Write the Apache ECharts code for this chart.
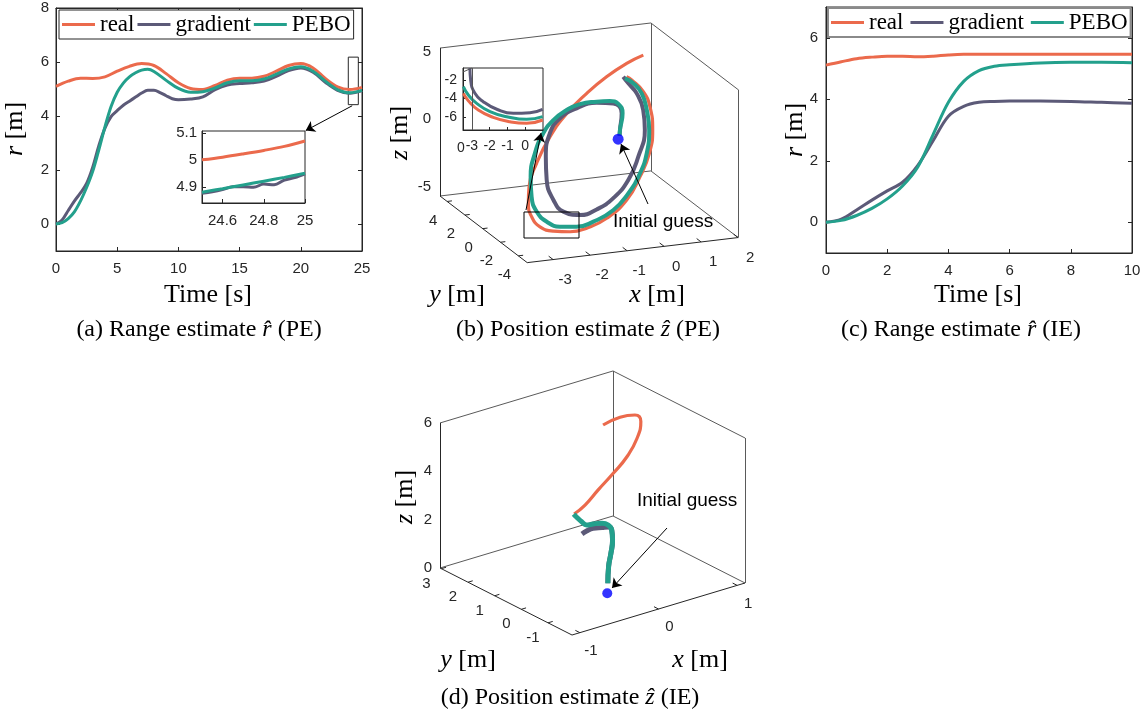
<!DOCTYPE html>
<html>
<head>
<meta charset="utf-8">
<title>Range and position estimates</title>
<script src="https://cdn.jsdelivr.net/npm/echarts@6.0.0/dist/echarts.min.js"></script>
<style>
  html, body { margin: 0; padding: 0; background: #fff; }
  #echarts { width: 1147px; height: 717px; }
</style>
</head>
<body>
<div id="echarts"></div>
<script>
const C_REAL = '#EB6A4C', C_GRAD = '#5C5A78', C_PEBO = '#23A08C', C_DOT = '#0000FF'
const INK = '#262626', SERIF = 'Liberation Serif', SANS = 'Liberation Sans'
const names = ['real', 'gradient', 'PEBO']

// (a) range estimate r, PE
const tRealA = [0,1,2,3,4,5,6,7,8,9,10,11,12,13,14,15,16,17,18,19,20,21,22,23,24,25]
const realA = [5.10,5.29,5.40,5.39,5.45,5.66,5.84,5.94,5.87,5.57,5.23,5.02,4.98,5.13,5.33,5.40,5.40,5.47,5.66,5.87,5.94,5.78,5.39,5.08,4.98,5.06]
const tPeboA = [0,0.5,1,1.5,2,2.5,3,3.5,4,4.5,5,5.5,6,6.5,7,7.5,8,9,10,11,12,13,14,15,16,17,18,19,20,21,22,23,24,25]
const peboA = [0,0.05,0.2,0.45,0.85,1.35,1.95,2.75,3.6,4.35,4.88,5.22,5.45,5.6,5.7,5.73,5.65,5.32,5.02,4.88,4.9,5.04,5.23,5.31,5.31,5.37,5.55,5.74,5.82,5.66,5.29,4.98,4.86,4.95]
const tGradA = [0,0.5,1,1.5,2,2.5,3,3.5,4,4.5,5,5.5,6,6.5,7,7.5,8,8.5,9,9.5,10,11,12,13,14,15,16,17,18,19,20,21,22,23,24,25]
const gradA = [0,0.15,0.5,0.85,1.15,1.5,2.1,2.9,3.55,3.98,4.2,4.4,4.55,4.7,4.85,4.95,4.95,4.87,4.75,4.64,4.6,4.63,4.71,4.98,5.15,5.2,5.23,5.29,5.47,5.68,5.78,5.62,5.25,4.95,4.84,4.94]

// (a) zoomed inset
const tInset = [24.5,24.6,24.7,24.8,24.9,25]
const realInset = [5.0,5.01,5.022,5.035,5.05,5.07]
const peboInset = [4.88,4.893,4.907,4.921,4.935,4.95]
const tGradInset = [24.5,24.55,24.6,24.65,24.7,24.75,24.8,24.85,24.9,24.95,25]
const gradInset = [4.876,4.882,4.89,4.9,4.9,4.898,4.91,4.908,4.925,4.934,4.948]

// (c) range estimate r, IE
const tRealC = [0,0.5,1,1.5,2,2.5,3,3.5,4,4.5,5,6,7,8,9,10]
const realC = [5.11,5.22,5.32,5.37,5.40,5.40,5.38,5.40,5.44,5.46,5.46,5.46,5.46,5.46,5.46,5.46]
const tEstC = [0,0.5,1,1.5,2,2.5,3,3.5,4,4.5,5,5.5,6,7,8,9,10]
const peboC = [0,0.06,0.22,0.45,0.76,1.18,1.8,2.85,3.9,4.58,4.93,5.07,5.12,5.18,5.2,5.2,5.19]
const gradC = [0,0.1,0.4,0.72,1.02,1.3,1.85,2.65,3.45,3.77,3.9,3.93,3.94,3.94,3.93,3.9,3.87]

// (b) position estimate z, PE (3-D)
const limB = { x: [-3.7, 2], y: [-5, 4.8], z: [-5.7, 5.3] }
const realBx = [1.86,1.12,0.21,-0.71,-1.65,-2.47,-3.17,-3.61,-3.72,-3.65,-3.35,-2.81,-2.11,-1.39,-0.50,0.43,1.11,1.62,1.88,1.88,1.68,1.25,1.05]
const realBy = [5.07,3.86,2.34,0.74,-0.93,-2.45,-3.85,-4.83,-5.21,-5.29,-4.98,-4.24,-3.21,-2.08,-0.63,0.99,2.32,3.39,4.10,4.41,4.32,3.84,3.59]
const realBz = [2.82,3.06,3.13,3.01,2.67,1.98,0.93,-0.18,-1.18,-2.16,-3.16,-4.03,-4.83,-5.37,-5.66,-5.43,-4.58,-3.55,-2.26,-0.69,0.54,1.79,2.23]
const gradBx = [0,0.11,0.37,0.20,-0.34,-1.21,-1.96,-2.46,-2.75,-2.83,-2.65,-2.29,-1.61,-0.88,-0.12,0.60,1.14,1.55,1.58,1.39,1.09,0.91]
const gradBy = [0,0.42,1.31,1.55,1.16,-0.20,-1.45,-2.39,-3.14,-3.57,-3.58,-3.20,-2.24,-1.08,0.21,1.52,2.64,3.61,3.92,3.86,3.55,3.38]
const gradBz = [0,0.17,0.88,1.55,1.97,2.53,2.67,2.19,0.93,-0.56,-2.10,-3.28,-4.24,-4.65,-4.71,-4.26,-3.26,-1.91,-0.59,0.74,1.74,2.38]
const peboBx = [0,0.11,0.41,0.38,0.14,-0.33,-1.05,-1.64,-2.25,-2.74,-3.19,-3.49,-3.55,-3.41,-3.04,-2.51,-1.81,-1.08,-0.18,0.53,1.13,1.51,1.73,1.73,1.60,1.30,0.97]
const peboBy = [0,0.42,1.37,1.72,1.68,1.20,0.09,-0.86,-1.91,-2.81,-3.74,-4.51,-4.87,-4.87,-4.45,-3.73,-2.69,-1.54,-0.05,1.23,2.40,3.23,3.87,4.14,4.17,3.86,3.44]
const peboBz = [0,0.17,0.84,1.37,1.68,2.03,2.65,2.88,2.86,2.49,1.63,0.37,-0.92,-2.08,-3.15,-4.06,-4.82,-5.26,-5.44,-5.08,-4.37,-3.43,-2.11,-0.75,0.52,1.52,2.20]
const initB = [-0.04, 0, -0.25]
const ticksBx = [-3,-2,-1,0,1,2], ticksBy = [-4,-2,0,2,4], ticksBz = [-5,0,5]

// (b) inset (x-z view)
const insetRealX = [-3.48,-3.20,-2.64,-1.80,-0.86,0.08,0.98]
const insetRealZ = [-3.44,-4.24,-5.24,-6.03,-6.51,-6.68,-6.32]
const insetGradX = [-3.11,-3.07,-2.83,-2.36,-1.60,-0.67,0.27,0.98]
const insetGradZ = [-0.70,-2.00,-3.44,-4.34,-5.16,-5.60,-5.53,-5.16]
const insetPeboX = [-3.48,-3.20,-2.73,-1.98,-1.04,0.08,0.98]
const insetPeboZ = [-2.72,-3.62,-4.52,-5.42,-5.96,-6.25,-5.96]

// (d) position estimate z, IE (3-D)
const limD = { x: [-1.1, 1.1], y: [-1.9, 3.05], z: [0, 6] }
const realDx = [0.76,1.00,1.02,0.83,0.47,0.09,-0.26,-0.59,-0.89,-1.08]
const realDy = [2.42,2.49,1.99,1.21,0.29,-0.45,-0.97,-1.37,-1.77,-1.92]
const realDz = [4.45,4.50,4.85,5.20,5.38,5.40,5.35,5.20,5.10,5.00]
const gradDx = [0,0.04,0.08,0.07,0.07,-0.06,-0.27,-0.47,-0.66,-0.78]
const gradDy = [0,0.09,0.12,0.03,0.06,-0.20,-0.58,-0.83,-1.15,-1.33]
const gradDz = [0,0.60,1.10,1.70,2.10,2.50,2.90,3.20,3.45,3.55]
const peboDx = [0,0.04,0.08,0.07,0.07,-0.07,-0.32,-0.59,-0.85,-0.97,-1.05,-0.99]
const peboDy = [0,0.09,0.12,0.03,0.06,-0.22,-0.72,-1.19,-1.71,-1.88,-1.91,-1.64]
const peboDz = [0,0.60,1.10,1.70,2.10,2.60,3.20,3.70,4.20,4.55,4.85,4.75]
const initD = [-0.16, -0.45, 0]
const ticksDx = [-1,0,1], ticksDy = [-1,0,1,2,3], ticksDz = [0,2,4,6]

// layout of the projected 3-D boxes (pixel corner + screen step per unit)
const layB = { o: [440, 196], ex: [37, -4.4], ey: [-8.9, -6.8], ez: [0, -13.45], tick: [0.13, 0.5],
  zLab: [-9, 0], yLab: [-14, 19], xLab: [12, 20], zTitle: [400, 133], yTitle: [457, 295], xTitle: [657, 295] }
const layD = { o: [440, 568], ex: [78.64, -23.64], ey: [-26.67, -13.54], ez: [0, -24.17], tick: [0.06, 0.17],
  zLab: [-8, 0], yLab: [-15, 15], xLab: [11, 18], zTitle: [405, 497], yTitle: [468, 660], xTitle: [700, 660] }

const chart = echarts.init(document.getElementById('echarts'))

const pair = (xs, ys) => xs.map((x, i) => [x, ys[i]])
function proj(lim, lay, x, y, z) {
  const dx = x - lim.x[0], dy = y - lim.y[1], dz = z - lim.z[0]
  return [lay.o[0] + dx * lay.ex[0] + dy * lay.ey[0] + dz * lay.ez[0],
          lay.o[1] + dx * lay.ex[1] + dy * lay.ey[1] + dz * lay.ez[1]]
}
const path3 = (lim, lay, xs, ys, zs) => xs.map((x, i) => proj(lim, lay, x, ys[i], zs[i]))

function boxEdges(lim, lay) {
  const c = (i, j, k) => proj(lim, lay, lim.x[i], lim.y[j], lim.z[k])
  return {
    axis: [[c(0,1,0), c(0,1,1)], [c(0,1,0), c(0,0,0)], [c(0,0,0), c(1,0,0)]],
    back: [[c(1,1,0), c(1,1,1)], [c(1,0,0), c(1,0,1)], [c(0,1,0), c(1,1,0)],
           [c(1,0,0), c(1,1,0)], [c(0,1,1), c(1,1,1)], [c(1,0,1), c(1,1,1)]]
  }
}
function tickMarks(lim, lay, xt, yt) {
  const out = []
  yt.forEach(v => out.push([proj(lim, lay, lim.x[0], v, lim.z[0]), proj(lim, lay, lim.x[0] + lay.tick[0], v, lim.z[0])]))
  xt.forEach(v => out.push([proj(lim, lay, v, lim.y[0], lim.z[0]), proj(lim, lay, v, lim.y[0] + lay.tick[1], lim.z[0])]))
  return out
}

const graphics = []
function text(x, y, s, o) {
  graphics.push(Object.assign({ type: 'text', x, y, silent: true, style: Object.assign({
    text: s, fill: INK, fontFamily: SANS, fontSize: 15, align: 'center', verticalAlign: 'middle' }, o && o.style) },
    o && o.rotation ? { rotation: o.rotation } : {}))
}
const it = size => ({ i: { fontStyle: 'italic', fontFamily: SERIF, fontSize: size, fill: '#000' } })
function title(x, y, s, rot) {
  text(x, y, s, { rotation: rot, style: { fontFamily: SERIF, fontSize: 26, fill: '#000', rich: it(26) } })
}
function caption(x, y, s) {
  text(x, y, s, { style: { fontFamily: SERIF, fontSize: 24, fill: '#000', rich: it(24) } })
}
function axisTexts3(lim, lay, xt, yt, zt) {
  zt.forEach(v => { const p = proj(lim, lay, lim.x[0], lim.y[1], v); text(p[0] + lay.zLab[0], p[1] + lay.zLab[1], String(v), { style: { align: 'right' } }) })
  yt.forEach(v => { const p = proj(lim, lay, lim.x[0], v, lim.z[0]); text(p[0] + lay.yLab[0], p[1] + lay.yLab[1], String(v)) })
  xt.forEach(v => { const p = proj(lim, lay, v, lim.y[0], lim.z[0]); text(p[0] + lay.xLab[0], p[1] + lay.xLab[1], String(v)) })
  title(lay.zTitle[0], lay.zTitle[1], '{i|z} [m]', Math.PI / 2)
  title(lay.yTitle[0], lay.yTitle[1], '{i|y} [m]')
  title(lay.xTitle[0], lay.xTitle[1], '{i|x} [m]')
}

title(15, 129, '{i|r} [m]', Math.PI / 2)
title(208, 295, 'Time [s]')
title(795, 130, '{i|r} [m]', Math.PI / 2)
title(978, 295, 'Time [s]')
axisTexts3(limB, layB, ticksBx, ticksBy, ticksBz)
axisTexts3(limD, layD, ticksDx, ticksDy, ticksDz)
text(461, 148, '0', { style: { fontSize: 14 } })
text(613, 222, 'Initial guess', { style: { align: 'left', fontSize: 19, fill: '#000' } })
text(637, 501, 'Initial guess', { style: { align: 'left', fontSize: 19, fill: '#000' } })
caption(199, 330, '(a) Range estimate {i|r\u0302} (PE)')
caption(588, 330, '(b) Position estimate {i|z\u0302} (PE)')
caption(961, 330, '(c) Range estimate {i|r\u0302} (IE)')
caption(570, 698, '(d) Position estimate {i|z\u0302} (IE)')

const tickLbl = { color: INK, fontFamily: SANS, fontSize: 15 }
function vAxis(o) {
  return Object.assign({
    type: 'value', splitLine: { show: false },
    axisLine: { show: true, onZero: false, lineStyle: { color: INK, width: 1 } },
    axisTick: Object.assign({ show: true, inside: true, length: 4, lineStyle: { color: INK } }, o.tick || {}),
    axisLabel: Object.assign({}, tickLbl, o.label || {})
  }, o.base)
}
const noLbl = { show: false }

const colorOf = { real: C_REAL, gradient: C_GRAD, PEBO: C_PEBO }
function line(name, data, xi, yi, w, extra) {
  return Object.assign({
    type: 'line', name, data, xAxisIndex: xi, yAxisIndex: yi, showSymbol: false, smooth: 0.35,
    lineStyle: { color: colorOf[name], width: w }, itemStyle: { color: colorOf[name] }, silent: true, z: 3
  }, extra || {})
}
function segs(xi, yi, list, color, w, extra) {
  return Object.assign({
    type: 'lines', coordinateSystem: 'cartesian2d', xAxisIndex: xi, yAxisIndex: yi,
    data: list.map(c => ({ coords: c })), lineStyle: { color, width: w, opacity: 1, curveness: 0 },
    symbol: 'none', silent: true, z: 2
  }, extra || {})
}

const S = 5 // screen axis index for 3-D panels
const edgesB = boxEdges(limB, layB), edgesD = boxEdges(limD, layD)

// annotation shapes
const zoomBoxA = [[23.88, 6.18], [24.7, 6.18], [24.7, 4.42], [23.88, 4.42], [23.88, 6.18]]
const zoomArrowA = [[24.2, 4.38], [20.4, 3.46]]
const zoomBoxB = [[524, 212], [579, 212], [579, 238], [524, 238], [524, 212]]
const zoomArrowB = [[526, 210], [541, 133]]
const guessArrowB = [[648, 204], [621, 144]]
const guessArrowD = [[667, 528], [612, 588]]

const legendBase = { data: names, icon: 'rect', itemWidth: 33, itemHeight: 3, selectedMode: false, backgroundColor: '#fff',
  textStyle: { fontFamily: SERIF, fontSize: 23, color: '#000' } }

const option = {
  animation: false,
  backgroundColor: '#fff',
  legend: [
    Object.assign({ left: 59, top: 10, itemGap: 3, padding: [3, 3, 3, 3], borderColor: INK, borderWidth: 1 }, legendBase),
    Object.assign({ left: 828, top: 8, itemGap: 7, padding: [3, 3, 3, 3], borderColor: '#8a8a8a', borderWidth: 2 }, legendBase)
  ],
  grid: [
    { left: 56, top: 8, width: 306, height: 243, show: true, borderColor: INK, borderWidth: 1, backgroundColor: 'transparent' },
    { left: 202, top: 131, width: 103, height: 72, show: true, borderColor: INK, borderWidth: 1, backgroundColor: '#fff', z: 4 },
    { left: 826, top: 7, width: 306, height: 246, show: true, borderColor: INK, borderWidth: 1, backgroundColor: 'transparent' },
    { left: 0, top: 0, width: 1147, height: 717 },
    { left: 463, top: 68, width: 80, height: 62, show: true, borderColor: INK, borderWidth: 1, backgroundColor: '#fff', z: 4 }
  ],
  xAxis: [
    vAxis({ base: { gridIndex: 0, min: 0, max: 25, interval: 5 }, label: { margin: 10 } }),
    vAxis({ base: { gridIndex: 0, position: 'top', min: 0, max: 25, interval: 5 }, label: noLbl }),
    vAxis({ base: { gridIndex: 1, min: 24.5, max: 25, z: 5 }, label: { margin: 10, customValues: [24.6, 24.8, 25] }, tick: { customValues: [24.6, 24.8, 25] } }),
    vAxis({ base: { gridIndex: 2, min: 0, max: 10, interval: 2 }, label: { margin: 10 } }),
    vAxis({ base: { gridIndex: 2, position: 'top', min: 0, max: 10, interval: 2 }, label: noLbl }),
    { type: 'value', gridIndex: 3, min: 0, max: 1147, show: false },
    vAxis({ base: { gridIndex: 4, min: -3.5, max: 1, z: 5 }, label: { margin: 9, fontSize: 14, customValues: [-3, -2, -1, 0] }, tick: { customValues: [-3, -2, -1, 0], length: 3 } })
  ],
  yAxis: [
    vAxis({ base: { gridIndex: 0, min: -1, max: 8 }, label: { margin: 7, customValues: [0, 2, 4, 6, 8] }, tick: { customValues: [0, 2, 4, 6, 8] } }),
    vAxis({ base: { gridIndex: 0, position: 'right', min: -1, max: 8 }, label: noLbl, tick: { customValues: [0, 2, 4, 6, 8] } }),
    vAxis({ base: { gridIndex: 1, min: 4.84, max: 5.107, z: 5 }, label: { margin: 5, customValues: [4.9, 5, 5.1] }, tick: { customValues: [4.9, 5, 5.1] } }),
    vAxis({ base: { gridIndex: 2, min: -1, max: 7 }, label: { margin: 8, customValues: [0, 2, 4, 6] }, tick: { customValues: [0, 2, 4, 6] } }),
    vAxis({ base: { gridIndex: 2, position: 'right', min: -1, max: 7 }, label: noLbl, tick: { customValues: [0, 2, 4, 6] } }),
    { type: 'value', gridIndex: 3, min: 0, max: 717, inverse: true, show: false },
    vAxis({ base: { gridIndex: 4, min: -7.4, max: -0.7, z: 5 }, label: { margin: 6, fontSize: 14, customValues: [-6, -4, -2] }, tick: { customValues: [-6, -4, -2], length: 3 } })
  ],
  series: [
    // (a)
    line('real', pair(tRealA, realA), 0, 0, 3),
    line('gradient', pair(tGradA, gradA), 0, 0, 3),
    line('PEBO', pair(tPeboA, peboA), 0, 0, 3),
    segs(0, 0, [zoomBoxA], INK, 1, { polyline: true }),
    segs(0, 0, [zoomArrowA], '#000', 1, { symbol: ['none', 'arrow'], symbolSize: [0, 9] }),
    line('real', pair(tInset, realInset), 2, 2, 3, { z: 6 }),
    line('gradient', pair(tGradInset, gradInset), 2, 2, 3, { z: 6 }),
    line('PEBO', pair(tInset, peboInset), 2, 2, 3, { z: 6 }),
    // (c)
    line('real', pair(tRealC, realC), 3, 3, 3),
    line('gradient', pair(tEstC, gradC), 3, 3, 3),
    line('PEBO', pair(tEstC, peboC), 3, 3, 3),
    // (b) 3-D box, curves, annotations
    segs(S, S, edgesB.back, '#5a5a5a', 1),
    segs(S, S, edgesB.axis, INK, 1),
    segs(S, S, tickMarks(limB, layB, ticksBx, ticksBy), INK, 1),
    line('real', path3(limB, layB, realBx, realBy, realBz), S, S, 3.2, { smooth: 0.5 }),
    line('gradient', path3(limB, layB, gradBx, gradBy, gradBz), S, S, 4, { smooth: 0.5 }),
    line('PEBO', path3(limB, layB, peboBx, peboBy, peboBz), S, S, 4, { smooth: 0.5 }),
    { type: 'scatter', xAxisIndex: S, yAxisIndex: S, data: [proj(limB, layB, initB[0], initB[1], initB[2])], symbolSize: 11, itemStyle: { color: C_DOT }, silent: true, z: 5 },
    segs(S, S, [zoomBoxB], '#000', 1, { polyline: true, z: 4 }),
    segs(S, S, [zoomArrowB, guessArrowB], '#000', 1, { symbol: ['none', 'arrow'], symbolSize: [0, 9], z: 6 }),
    // (b) inset
    line('real', pair(insetRealX, insetRealZ), 6, 6, 3, { z: 6, smooth: 0.5 }),
    line('PEBO', pair(insetPeboX, insetPeboZ), 6, 6, 3, { z: 6, smooth: 0.5 }),
    line('gradient', pair(insetGradX, insetGradZ), 6, 6, 3, { z: 6, smooth: 0.5 }),
    segs(6, 6, [[[-3, -7.4], [-3, -0.7]], [[-3.5, -1.13], [-3, -0.7]]], '#555', 1, { z: 7 }),
    // (d) 3-D box, curves, annotations
    segs(S, S, edgesD.back, '#5a5a5a', 1),
    segs(S, S, edgesD.axis, INK, 1),
    segs(S, S, tickMarks(limD, layD, ticksDx, ticksDy), INK, 1),
    line('real', path3(limD, layD, realDx, realDy, realDz), S, S, 3.2, { smooth: 0.5 }),
    line('gradient', path3(limD, layD, gradDx, gradDy, gradDz), S, S, 5, { smooth: 0.5 }),
    line('PEBO', path3(limD, layD, peboDx, peboDy, peboDz), S, S, 5, { smooth: 0.5 }),
    { type: 'scatter', xAxisIndex: S, yAxisIndex: S, data: [proj(limD, layD, initD[0], initD[1], initD[2])], symbolSize: 10, itemStyle: { color: C_DOT }, silent: true, z: 5 },
    segs(S, S, [guessArrowD], '#000', 1, { symbol: ['none', 'arrow'], symbolSize: [0, 9], z: 6 })
  ],
  graphic: graphics
}
chart.setOption(option)
</script>
</body>
</html>
